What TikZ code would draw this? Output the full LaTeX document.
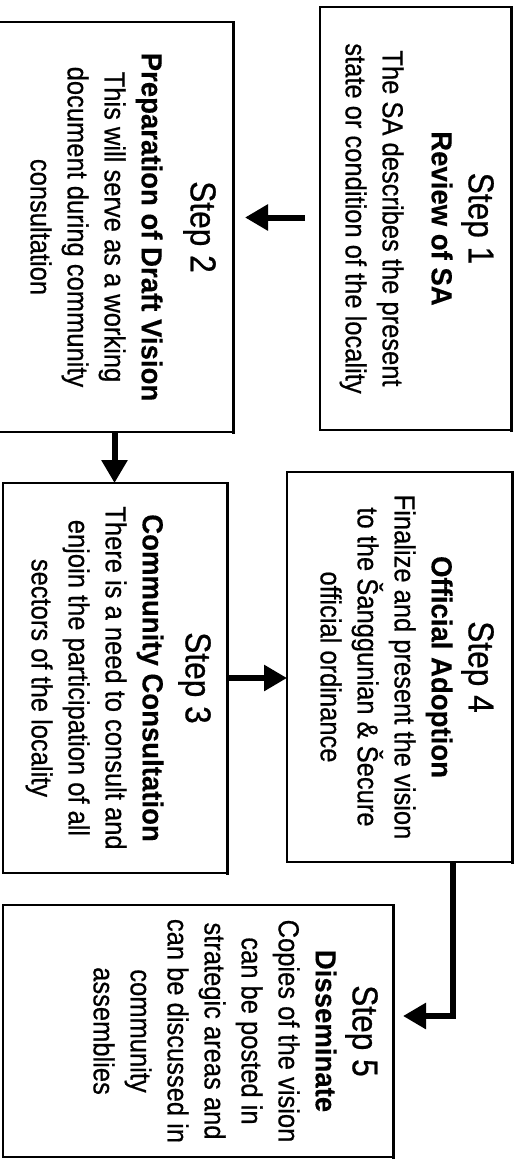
\documentclass[tikz,border=0pt]{standalone}
\usepackage{fontspec}
\setmainfont{Liberation Sans}[FakeStretch=0.88,FakeBold=0.6,
  BoldFeatures={FakeStretch=0.95,FakeBold=0.3}]
\usetikzlibrary{arrows.meta,calc}
\newcommand{\StepHead}[1]{{\fontsize{36}{37}\selectfont #1}}
\tikzset{
  stepbox/.style={draw=black,line width=1.5pt,inner sep=0pt,outer sep=0pt,fill=white},
  shadeside/.style={line width=3pt,line cap=rect},
  steptext/.style={rotate=-90,anchor=north,align=center,inner sep=0pt,
                   font=\fontsize{29}{37}\selectfont},
  flow/.style={line width=6pt,line join=miter,
               -{Triangle[length=23pt,width=25pt]}}
}
\begin{document}
\begin{tikzpicture}[x=1pt,y=1pt]
\useasboundingbox (0,0) rectangle (527,-1165);

% the five step boxes
\node[stepbox,minimum width=191pt,minimum height=423pt] (b1) at (415.5,-218.5) {};
\node[stepbox,minimum width=237pt,minimum height=410pt] (b2) at (114.5,-227) {};
\node[stepbox,minimum width=224pt,minimum height=390pt] (b3) at (115,-678) {};
\node[stepbox,minimum width=225pt,minimum height=390pt] (b4) at (399.5,-667) {};
\node[stepbox,minimum width=390pt,minimum height=252pt] (b5) at (198,-1031) {};

% heavier right-hand edges
\foreach \b in {b1,b2,b3,b4,b5}
  \draw[shadeside] (\b.north east) -- (\b.south east);

% box texts, set sideways
\node[steptext] (t1) at ([xshift=-17pt]b1.east)
  {\StepHead{Step 1}\\ \textbf{Review of SA}\\[12pt]
   The SA describes the present\\ state or condition of the locality};
\node[steptext] (t2) at ([xshift=-17pt]b2.east)
  {\StepHead{Step 2}\\[12pt] \textbf{Preparation of Draft Vision}\\
   This will serve as a working\\ document during community\\ consultation};
\node[steptext] (t3) at ([xshift=-16pt]b3.east)
  {\StepHead{Step 3}\\[6pt] \textbf{Community Consultation}\\
   There is a need to consult and\\ enjoin the participation of all\\
   sectors of the locality};
\node[steptext] (t4) at ([xshift=-18pt]b4.east)
  {\StepHead{Step 4}\\ \textbf{Official Adoption}\\
   Finalize and present the vision\\ to the Šanggunian \& Šecure\\
   official ordinance};
\node[steptext] (t5) at ([xshift=-15pt]b5.east)
  {\StepHead{Step 5}\\ \textbf{Disseminate}\\ Copies of the vision\\
   can be posted in\\ strategic areas and\\ can be discussed in\\
   community\\ assemblies};

% connectors
\coordinate (a12s) at ($(b1.west)+(-15,1)$);
\coordinate (a12e) at ($(a12s -| b2.east)+(12,0)$);
\draw[flow] (a12s) -- (a12e);
\draw[flow] (b2.south) -- (b2.south |- b3.north);
\draw[flow] (b3.east) -- (b3.east -| b4.west);
\coordinate (a45s) at ($(b4.south west)+(166,0)$);
\coordinate (a45e) at ($(b5.north east)+(10,-111)$);
\draw[flow] (a45s) |- (a45e);
\end{tikzpicture}
\end{document}
